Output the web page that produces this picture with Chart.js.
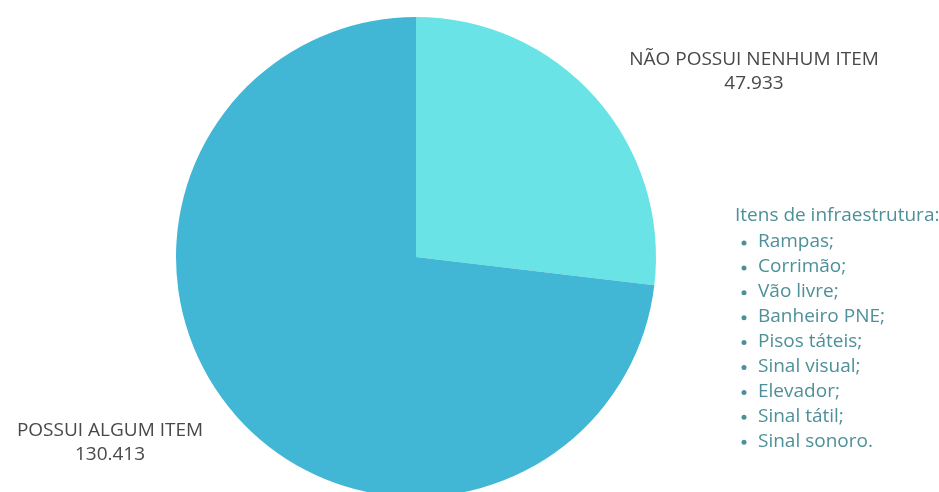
<!DOCTYPE html>
<html lang="pt-BR">
<head>
    <meta charset="UTF-8">
    <title>Itens de infraestrutura</title>
    <script src="https://cdn.jsdelivr.net/npm/chart.js@4.4.0/dist/chart.umd.min.js"></script>
    <style>
        html, body { margin: 0; padding: 0; background: #fff; overflow: hidden; }
        #box { position: relative; width: 939px; height: 497px; }
    </style>
</head>
<body>
    <div id="box"><canvas id="pie"></canvas></div>
    <script>
        let labels = ['NÃO POSSUI NENHUM ITEM', 'POSSUI ALGUM ITEM'];
        let values = [47933, 130413];
        let colors = ['#6ae3e7', '#42b7d5'];
        let itemsTitle = 'Itens de infraestrutura:';
        let items = ['Rampas;', 'Corrimão;', 'Vão livre;', 'Banheiro PNE;', 'Pisos táteis;',
                     'Sinal visual;', 'Elevador;', 'Sinal tátil;', 'Sinal sonoro.'];

        function fmt(v) { return v.toLocaleString('pt-BR'); }

        // slice labels + infra list, drawn after the pie
        let textPlugin = {
            id: 'texts',
            afterDraw(chart) {
                let c = chart.ctx;
                c.save();
                c.textBaseline = 'middle';
                c.textAlign = 'center';
                c.fillStyle = '#484848';
                c.font = '19px "Open Sans"';
                c.fillText(labels[0], 754, 60);
                c.fillText(fmt(values[0]), 754, 84);
                c.fillText(labels[1], 110, 431);
                c.fillText(fmt(values[1]), 110, 455);

                c.textAlign = 'left';
                c.fillStyle = '#4d9099';
                c.font = '19px "Open Sans"';
                c.fillText(itemsTitle, 735, 216);
                items.forEach((t, i) => {
                    let y = 242 + i * 24.9;
                    c.beginPath();
                    c.arc(744, y + 1, 2.5, 0, Math.PI * 2);
                    c.fill();
                    c.fillText(t, 758, y);
                });
                c.restore();
            }
        };

        new Chart(document.getElementById('pie'), {
            type: 'pie',
            data: {
                labels: labels,
                datasets: [{
                    data: values,
                    backgroundColor: colors,
                    borderWidth: 0
                }]
            },
            options: {
                responsive: true,
                maintainAspectRatio: false,
                animation: false,
                layout: { padding: { left: 176, right: 283, top: 17, bottom: 0 } },
                plugins: { legend: { display: false }, tooltip: { enabled: false } }
            },
            plugins: [textPlugin]
        });
    </script>
</body>
</html>
